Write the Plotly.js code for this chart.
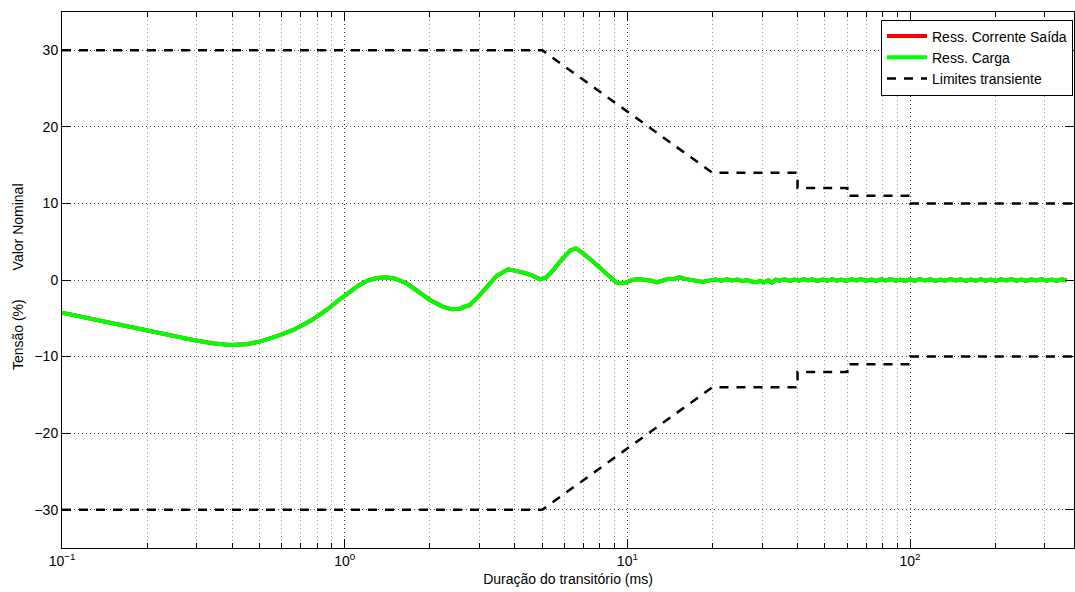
<!DOCTYPE html>
<html>
<head>
<meta charset="utf-8">
<script src="https://cdn.plot.ly/plotly-3.0.1.min.js"></script>
<style>
  html, body { margin: 0; padding: 0; background: #fff; }
  #chart { width: 1075px; height: 592px; }
</style>
</head>
<body>
<div id="chart"></div>
<script>
// Transient response of the output voltage (% of nominal) vs. transient duration (ms)
const durationMs = [
  0.1, 0.13, 0.15, 0.194, 0.24, 0.291, 0.34, 0.393, 0.45, 0.5, 0.57, 0.658, 0.76, 0.864, 0.962,
  1.04, 1.117, 1.2, 1.3, 1.4, 1.5, 1.656, 1.8, 2.003, 2.2, 2.39, 2.55, 2.77, 2.95, 3.18, 3.45,
  3.79, 4.0, 4.29, 4.6, 4.91, 5.15, 5.47, 5.9, 6.3, 6.58, 6.9, 7.57, 8.3, 9.16, 9.67,
  10.1, 10.5, 11, 11.6, 12.2, 12.7, 13.3, 14.0, 14.6, 15.3, 16.0, 16.8, 17.5, 18.5, 19.5,
  20.5, 21.5, 22.5, 23.5, 24.5, 25.5, 26.5, 27.5, 28.5, 29.5, 30.5, 31.5, 32.5, 33.5, 34.5,
  36, 37.5, 39, 40.5, 42, 43.5, 45, 47, 49, 51, 53, 55, 57, 59.5, 62, 64.5, 67, 70, 73, 76,
  79, 82, 85.5, 89, 92.5, 96, 100, 104, 108, 113, 118, 123, 128, 133, 139, 145, 151, 157,
  164, 171, 178, 185, 193, 201, 210, 219, 228, 238, 248, 258, 269, 280, 292, 304, 317, 330,
  344, 358, 373, 389, 405
];

// Load-resistance response (%)
const respCarga = [
  -4.26, -5.15, -5.64, -6.52, -7.2, -7.83, -8.25, -8.48, -8.4, -8.05, -7.4, -6.52, -5.3, -3.91, -2.52,
  -1.6, -0.75, -0.1, 0.25, 0.35, 0.2, -0.43, -1.4, -2.61, -3.4, -3.83, -3.75, -3.26, -2.3, -0.87, 0.55,
  1.39, 1.25, 0.96, 0.6, 0.09, 0.3, 1.3, 2.8, 3.9, 4.13, 3.6, 2.39, 1.0, -0.35, -0.43,
  -0.1, 0.05, 0.1, 0.05, -0.1, -0.3, -0.1, 0.15, 0.1, 0.35, 0.15, 0.05, -0.05, -0.25, -0.05,
  0.05, -0.1, 0.1, -0.05, 0.05, -0.15, 0.0, -0.2, -0.3, -0.1, -0.3, -0.05, -0.35, 0.05, -0.1,
  0.08, -0.12, 0.06, -0.1, 0.12, -0.06, 0.1, -0.12, 0.06, -0.1, 0.12, -0.1, 0.06, -0.12, 0.1, -0.06,
  0.12, -0.1, 0.06, -0.12, 0.1, -0.06, 0.12, -0.1, 0.06, -0.12, 0.1, -0.1, 0.12, -0.06, 0.1, -0.12,
  0.06, -0.1, 0.12, -0.06, 0.1, -0.12, 0.06, -0.1, 0.12, -0.1, 0.06, -0.12, 0.1, -0.06, 0.12, -0.1,
  0.06, -0.12, 0.1, -0.06, 0.12, -0.1, 0.06, -0.12, 0.1, -0.06
];

// Output-current-resistance response (%), overlapping the load response
const respCorrente = respCarga.slice();

// Transient tolerance envelope
const limitX = [0.1, 5, 20, 40, 40, 60, 60, 100, 100, 400];
const limitUpper = [30, 30, 14, 14, 12, 12, 11, 11, 10, 10];
const limitLower = [-30, -30, -14, -14, -12, -12, -11, -11, -10, -10];

const majorTicks = [0.1, 1, 10, 100];
const majorTickText = ['10<sup>\u22121</sup>', '10<sup>0</sup>', '10<sup>1</sup>', '10<sup>2</sup>'];

const seriesNames = ['Ress. Corrente Saída', 'Ress. Carga', 'Limites transiente'];

// Minor log ticks: 2..9 within each decade shown
const minorTicks = [];
for (let d = -1; d <= 2; d++) {
  for (let m = 2; m <= 9; m++) minorTicks.push(m * Math.pow(10, d));
}

const font = { family: 'Liberation Sans, Arial, Helvetica, sans-serif', size: 14, color: '#000' };

const traces = [
  {
    x: durationMs, y: respCorrente, name: seriesNames[0], mode: 'lines',
    line: { color: '#ff0000', width: 4 }
  },
  {
    x: durationMs, y: respCarga, name: seriesNames[1], mode: 'lines',
    line: { color: '#00ff00', width: 4 }
  },
  {
    x: limitX, y: limitUpper, name: seriesNames[2], mode: 'lines', legendgroup: 'lim',
    line: { color: '#000', width: 2.5, dash: '9px,8px' }
  },
  {
    x: limitX, y: limitLower, name: seriesNames[2], mode: 'lines', legendgroup: 'lim', showlegend: false,
    line: { color: '#000', width: 2.5, dash: '9px,8px' }
  }
];

const layout = {
  width: 1075, height: 592,
  margin: { l: 62, r: 1, t: 12, b: 44 },
  paper_bgcolor: '#fff', plot_bgcolor: '#fff',
  font: font,
  showlegend: true,
  legend: {
    x: 0.999, xanchor: 'right', y: 0.986, yanchor: 'top',
    bgcolor: '#fff', bordercolor: '#000', borderwidth: 1,
    font: font, tracegroupgap: 0, itemwidth: 40
  },
  xaxis: {
    type: 'log', range: [-1, 2.58],
    tickmode: 'array', tickvals: majorTicks, ticktext: majorTickText,
    ticks: 'inside', ticklen: 9, tickwidth: 1, tickcolor: '#000',
    showline: true, linecolor: '#000', linewidth: 1, mirror: 'ticks',
    showgrid: true, gridcolor: '#444', gridwidth: 1, griddash: '1px,3px',
    zeroline: false,
    tickfont: font,
    minor: {
      tickmode: 'array', tickvals: minorTicks,
      ticks: 'inside', ticklen: 5, tickcolor: '#000',
      showgrid: true, gridcolor: '#999', gridwidth: 1, griddash: '1px,3px'
    },
    title: { text: 'Duração do transitório (ms)', font: font, standoff: 6 }
  },
  yaxis: {
    range: [-35, 35], tick0: 0, dtick: 10,
    ticks: 'inside', ticklen: 9, tickwidth: 1, tickcolor: '#000',
    showline: true, linecolor: '#000', linewidth: 1, mirror: 'ticks',
    showgrid: true, gridcolor: '#444', gridwidth: 1, griddash: '1px,3px',
    zeroline: false,
    tickfont: font
  },
  annotations: [
    {
      text: 'Valor Nominal', xref: 'paper', yref: 'paper',
      x: -0.0435, y: 0.6, xanchor: 'center', yanchor: 'middle',
      textangle: -90, showarrow: false, font: font
    },
    {
      text: 'Tensão (%)', xref: 'paper', yref: 'paper',
      x: -0.0435, y: 0.399, xanchor: 'center', yanchor: 'middle',
      textangle: -90, showarrow: false, font: font
    }
  ]
};

Plotly.newPlot('chart', traces, layout, { displayModeBar: false, staticPlot: true });
</script>
</body>
</html>
